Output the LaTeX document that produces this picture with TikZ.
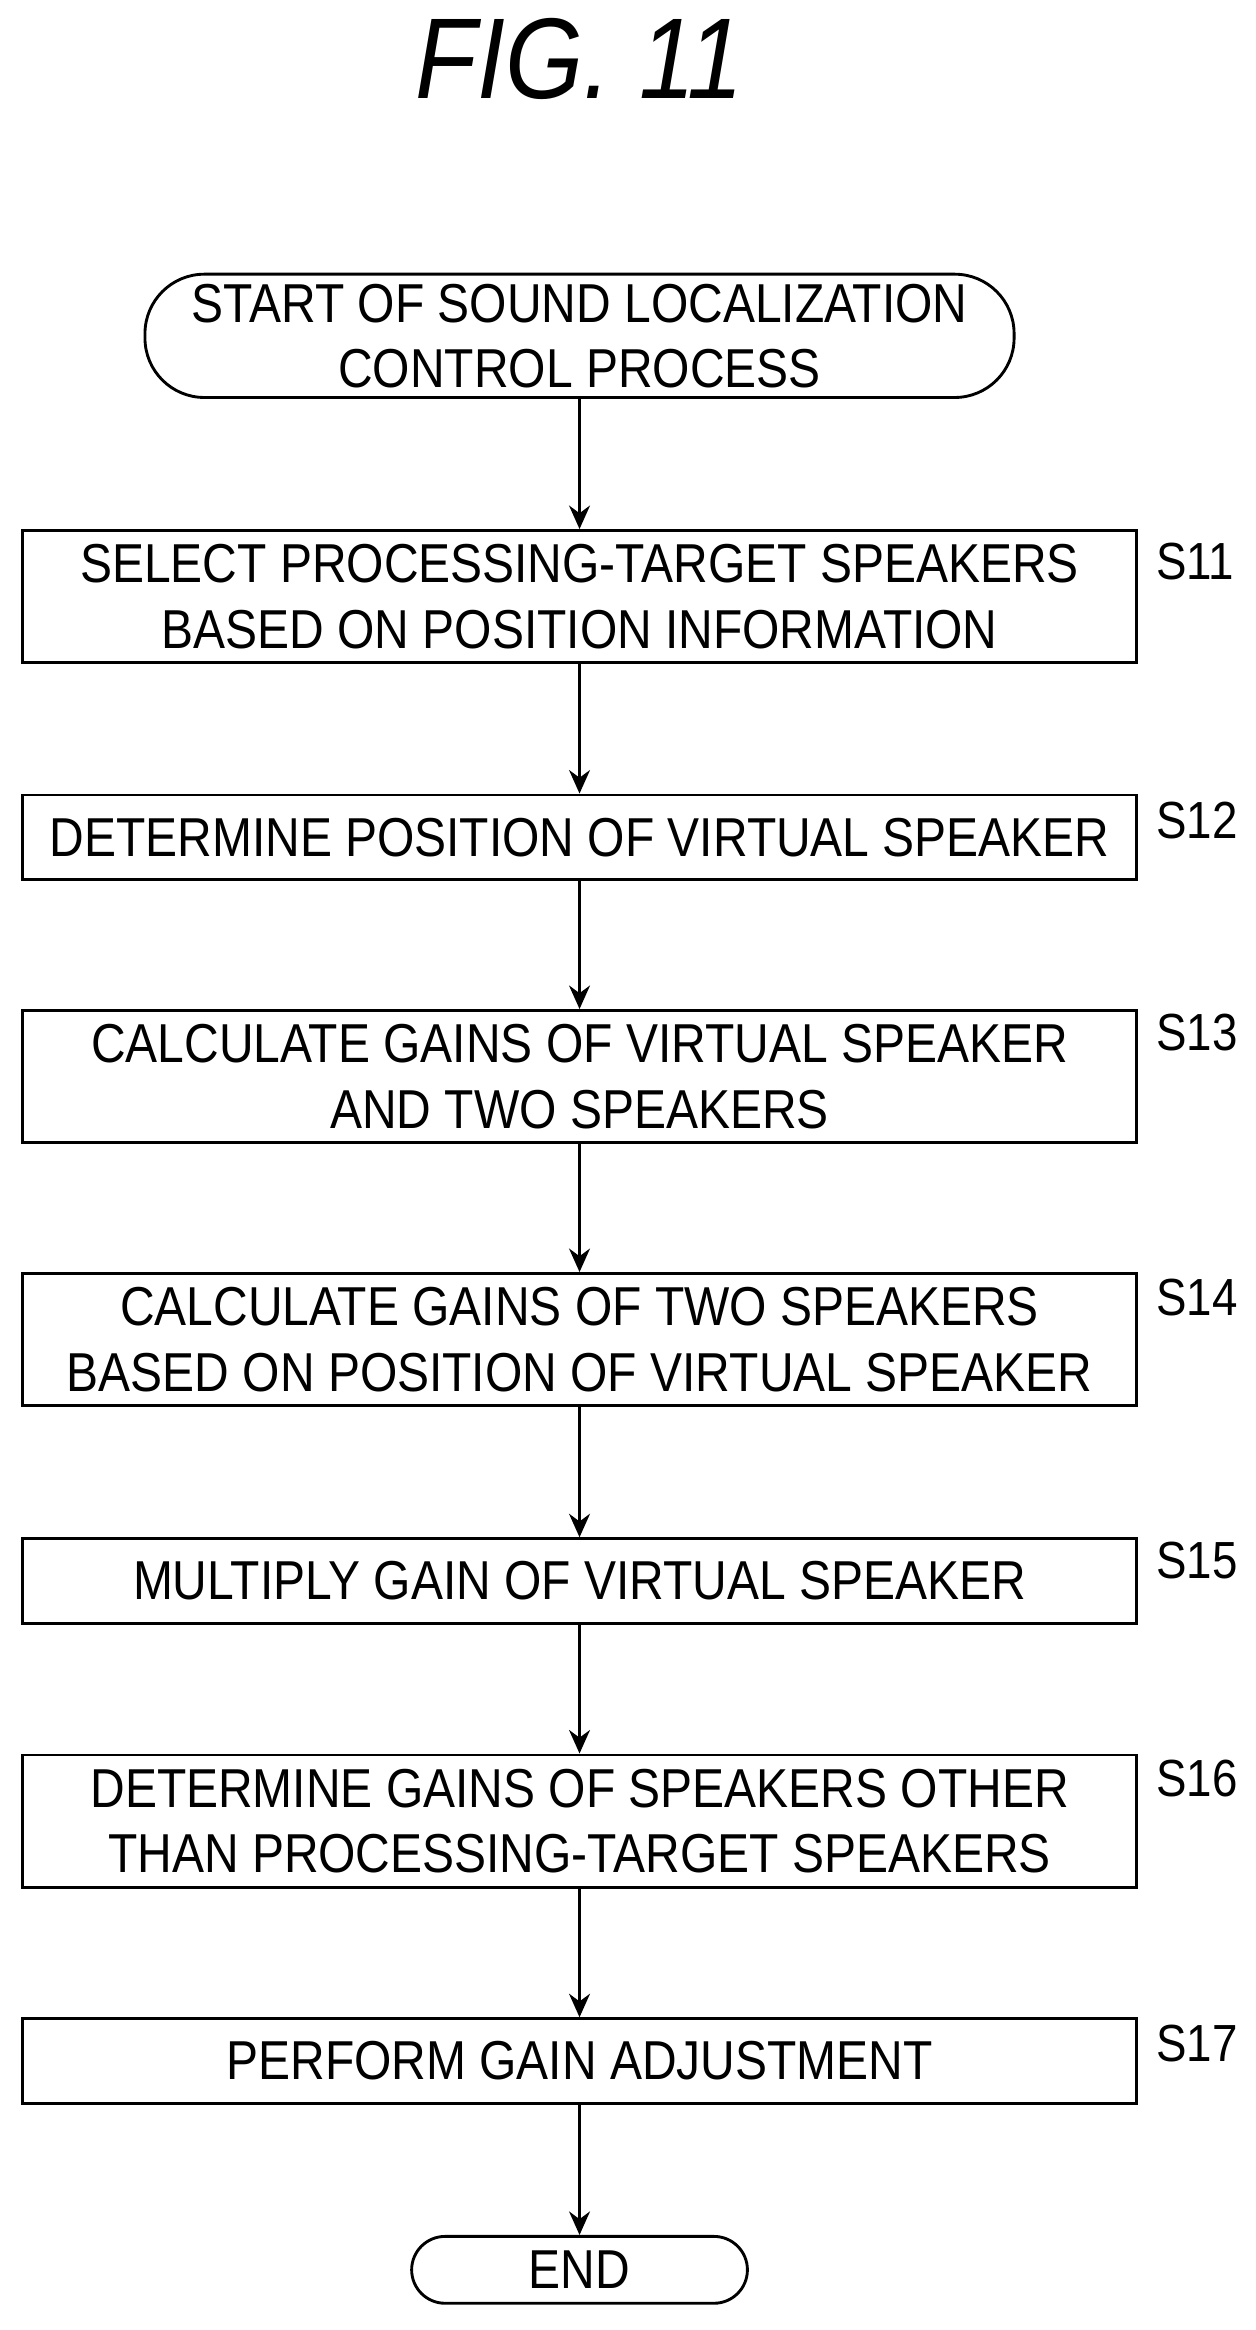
\documentclass[tikz,border=0pt]{standalone}
\usepackage{fontspec}
\setmainfont{Liberation Sans}[FakeStretch=0.875]
\usetikzlibrary{arrows.meta}
\tikzset{
  procbox/.style={draw, line width=1.1pt, minimum width=15cm, align=center, inner sep=2pt,
    font=\fontsize{21}{25}\selectfont},
  term/.style={procbox, rounded corners=0.8cm},
  tag/.style={anchor=west, font=\fontsize{20}{22}\selectfont},
  flow/.style={line width=1.1pt, -{Stealth[length=9pt,width=8pt]}}
}
\begin{document}
\begin{tikzpicture}[x=0.02cm, y=-0.02cm]
  \useasboundingbox (0,0) rectangle (845,1568);
  \node (fig) at (390,40) {\fontsize{44}{48}\selectfont\itshape FIG. 11};
  \node[term, minimum width=11.7cm, minimum height=1.66cm] (start) at (390,226) {START OF SOUND LOCALIZATION\\CONTROL PROCESS};
  \node[procbox, minimum height=1.78cm] (s11) at (390,401.5) {SELECT PROCESSING-TARGET SPEAKERS\\BASED ON POSITION INFORMATION};
  \node[procbox, minimum height=1.14cm] (s12) at (390,563.5) {DETERMINE POSITION OF VIRTUAL SPEAKER};
  \node[procbox, minimum height=1.78cm] (s13) at (390,724.5) {CALCULATE GAINS OF VIRTUAL SPEAKER\\AND TWO SPEAKERS};
  \node[procbox, minimum height=1.78cm] (s14) at (390,901.5) {CALCULATE GAINS OF TWO SPEAKERS\\BASED ON POSITION OF VIRTUAL SPEAKER};
  \node[procbox, minimum height=1.14cm] (s15) at (390,1064) {MULTIPLY GAIN OF VIRTUAL SPEAKER};
  \node[procbox, minimum height=1.78cm] (s16) at (390,1225.5) {DETERMINE GAINS OF SPEAKERS OTHER\\THAN PROCESSING-TARGET SPEAKERS};
  \node[procbox, minimum height=1.14cm] (s17) at (390,1387) {PERFORM GAIN ADJUSTMENT};
  \node[term, minimum width=4.52cm, minimum height=0.9cm, rounded corners=0.45cm] (end) at (390,1527.5) {END};
  % step numbers
  \node[tag] (t11) at (772,378) {S11};
  \node[tag] (t12) at (772,552) {S12};
  \node[tag] (t13) at (772,695) {S13};
  \node[tag] (t14) at (772,873) {S14};
  \node[tag] (t15) at (772,1050) {S15};
  \node[tag] (t16) at (772,1197) {S16};
  \node[tag] (t17) at (772,1375) {S17};
  % arrows
  \draw[flow] (start) -- (s11);
  \draw[flow] (s11) -- (s12);
  \draw[flow] (s12) -- (s13);
  \draw[flow] (s13) -- (s14);
  \draw[flow] (s14) -- (s15);
  \draw[flow] (s15) -- (s16);
  \draw[flow] (s16) -- (s17);
  \draw[flow] (s17) -- (end);
\end{tikzpicture}
\end{document}
